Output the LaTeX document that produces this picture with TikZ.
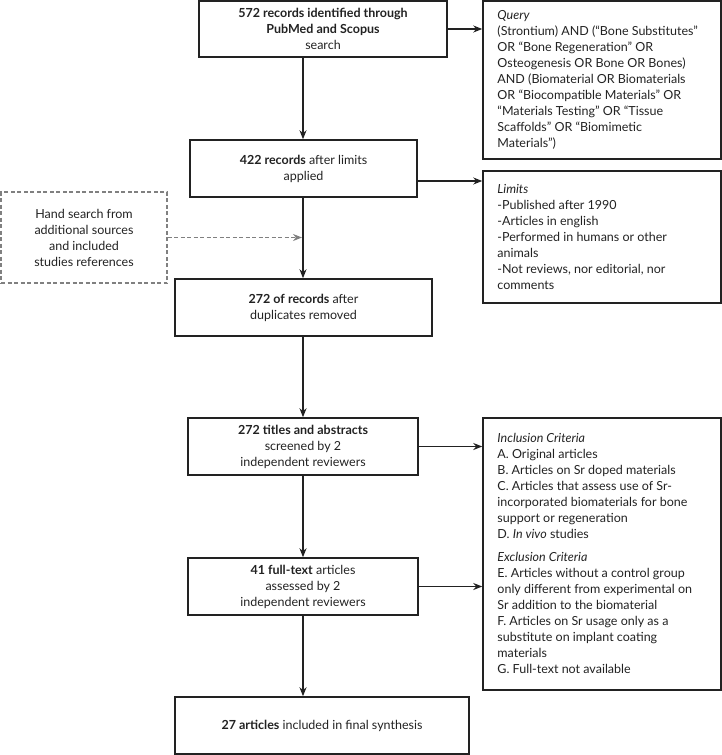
\documentclass[tikz,border=0pt]{standalone}
\usepackage{fontspec}
\setmainfont{Lato}
\usetikzlibrary{arrows.meta,calc}
\definecolor{ink}{HTML}{222222}
\definecolor{dashgray}{HTML}{808080}
\begin{document}
\begin{tikzpicture}[x=1pt,y=-1pt,
  font=\fontsize{12.5}{16}\selectfont, text=ink,
  box/.style={draw=ink, line width=1.5pt, inner sep=0pt, align=center},
  sidebox/.style={draw=ink, line width=1.5pt, inner sep=0pt, minimum width=238pt},
  handbox/.style={draw=dashgray, line width=1.3pt, dash pattern=on 4pt off 2.5pt, inner sep=0pt, align=center, minimum width=166pt, minimum height=91pt},
  sidetext/.style={anchor=west, align=left, inner sep=0pt},
  arr/.style={draw=ink, line width=1.5pt, -{Stealth[length=9pt,width=7pt]}},
  darr/.style={draw=dashgray, line width=1.4pt, dash pattern=on 4pt off 2.5pt, -{Stealth[length=9pt,width=7pt]}}
]
\useasboundingbox (0,0) rectangle (722,755);
\coordinate (spine) at (303,0);

% main column
\node[box, minimum width=248pt, minimum height=56pt] (b1) at (323,29)
  {\textbf{572 records identified through}\\ \textbf{PubMed and Scopus}\\ search};
\node[box, minimum width=227pt, minimum height=57pt] (b2) at (303.5,168.5)
  {\textbf{422 records} after limits\\ applied};
\node[box, minimum width=257pt, minimum height=57pt] (b3) at (303.5,307.5)
  {\textbf{272 of records} after\\ duplicates removed};
\node[box, minimum width=230pt, minimum height=57pt] (b4) at (303,446.5)
  {\textbf{272 titles and abstracts}\\ screened by 2\\ independent reviewers};
\node[box, minimum width=230pt, minimum height=57pt] (b5) at (303,586.5)
  {\textbf{41 full-text} articles\\ assessed by 2\\ independent reviewers};
\node[box, minimum width=294pt, minimum height=57pt] (b6) at (322,725.5)
  {\textbf{27 articles} included in final synthesis};

% hand search
\node[handbox] (hand) at (84,237.5)
  {Hand search from\\ additional sources\\ and included\\ studies references};

% side boxes
\node[sidebox, minimum height=158pt] (query) at (602,80) {};
\node[sidetext] (querytext) at ($(query.west)+(15,0)$)
  {\textit{Query}\\
   (Strontium) AND (“Bone Substitutes”\\
   OR “Bone Regeneration” OR\\
   Osteogenesis OR Bone OR Bones)\\
   AND (Biomaterial OR Biomaterials\\
   OR “Biocompatible Materials” OR\\
   “Materials Testing” OR “Tissue\\
   Scaffolds” OR “Biomimetic\\
   Materials”)};

\node[sidebox, minimum height=132pt] (limits) at (602,237) {};
\node[sidetext] (limitstext) at ($(limits.west)+(15,0)$)
  {\textit{Limits}\\
   -Published after 1990\\
   -Articles in english\\
   -Performed in humans or other\\
   animals\\
   -Not reviews, nor editorial, nor\\
   comments};

\node[sidebox, minimum height=272pt] (crit) at (602,554) {};
\node[sidetext] (crittext) at ($(crit.west)+(15,-1)$)
  {\textit{Inclusion Criteria}\\
   A. Original articles\\
   B. Articles on Sr doped materials\\
   C. Articles that assess use of Sr-\\
   incorporated biomaterials for bone\\
   support or regeneration\\
   D. \textit{In vivo} studies\\[7pt]
   \textit{Exclusion Criteria}\\
   E. Articles without a control group\\
   only different from experimental on\\
   Sr addition to the biomaterial\\
   F. Articles on Sr usage only as a\\
   substitute on implant coating\\
   materials\\
   G. Full-text not available};

% vertical connectors
\draw[arr] (b1.south -| spine) -- (b2.north -| spine);
\draw[arr] (b2.south -| spine) -- (b3.north -| spine);
\draw[arr] (b3.south -| spine) -- (b4.north -| spine);
\draw[arr] (b4.south -| spine) -- (b5.north -| spine);
\draw[arr] (b5.south -| spine) -- (b6.north -| spine);

% side connectors
\coordinate (b2out) at ($(b2.east)+(0,12.5)$);
\draw[arr] (b1.east) -- (b1.east -| query.west);
\draw[arr] (b2out) -- (b2out -| limits.west);
\draw[arr] (b4.east) -- (b4.east -| crit.west);
\draw[arr] (b5.east) -- (b5.east -| crit.west);

% dashed connector
\draw[darr] (hand.east) -- ($(hand.east -| spine)+(-1,0)$);
\end{tikzpicture}
\end{document}
